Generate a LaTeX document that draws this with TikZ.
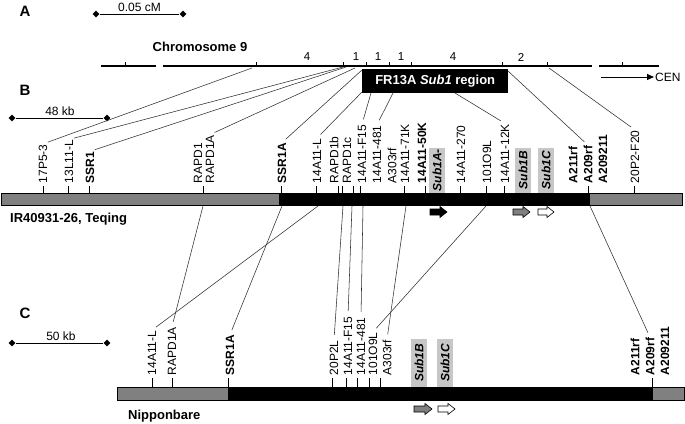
\documentclass[tikz,border=0pt]{standalone}
\usepackage{fontspec}
\setmainfont{Liberation Sans}
\usetikzlibrary{arrows.meta,calc,shapes.geometric}
\definecolor{midgray}{gray}{0.5}
\definecolor{boxgray}{gray}{0.78}
\newcommand\blockarr[5]{% name x0 x1 y fill
  \filldraw[draw=black,line width=0.6pt,fill=#5] (#2,#4-3) -- (#3-7,#4-3) -- (#3-7,#4-5.5) -- (#3,#4) -- (#3-7,#4+5.5) -- (#3-7,#4+3) -- (#2,#4+3) -- cycle;
  \coordinate (#1) at (#2,#4);}
\begin{document}
\begin{tikzpicture}[x=1pt,y=-1pt,
  lbl/.style={rotate=90,anchor=west,inner sep=0.5pt,font=\fontsize{12}{13}\selectfont},
  blbl/.style={lbl,font=\fontsize{12}{13}\selectfont\bfseries},
  subbox/.style={rotate=90,anchor=west,fill=boxgray,inner sep=0.5pt,minimum height=16pt,font=\fontsize{12}{13}\selectfont\bfseries\itshape},
  conn/.style={line width=0.55pt,black!82,shorten >=5pt},
  tck/.style={line width=0.8pt},
  chrom/.style={line width=1.4pt},
  panel/.style={font=\fontsize{15}{16}\selectfont\bfseries},
  ttl/.style={font=\fontsize{13}{15}\selectfont\bfseries},
  num/.style={font=\fontsize{11.5}{12}\selectfont,inner sep=0.5pt},
  diam/.style={diamond,fill=black,inner sep=0pt,minimum size=7pt},
  bar/.style={draw=black,line width=0.8pt}
]
\useasboundingbox (0,0) rectangle (685,423);

% ---------------- Panel A ----------------
\node[panel] (pA) at (25,11) {A};
\node[diam] (sa1) at (96,14) {};
\node[diam] (sa2) at (183,14) {};
\draw[line width=1pt] (sa1) -- (sa2);
\node[num,font=\fontsize{12}{13}\selectfont] (sat) at (139.5,7) {0.05 cM};
\node[ttl] (chr) at (200,47) {Chromosome 9};

\draw[chrom] (101,66) -- (156,66);
\draw[chrom] (163,66) -- (592,66);
\draw[chrom] (599,66) -- (659,66);
\foreach \x in {125,256,343,366,389,411,502,547,622}
  \draw[tck] (\x,66) -- (\x,61.5);
\node[num] (n1) at (307,57) {4};
\node[num] (n2) at (356,57) {1};
\node[num] (n3) at (378,57) {1};
\node[num] (n4) at (401,57) {1};
\node[num] (n5) at (453,57) {4};
\node[num] (n6) at (521,57) {2};

\node[fill=black,text=white,ttl,minimum width=146pt,minimum height=24pt,anchor=north west,inner sep=0pt] (fr) at (362,69) {FR13A \textit{Sub1} region};

\coordinate (cen0) at (601,77);
\node[anchor=west,inner sep=1pt,font=\fontsize{12}{13}\selectfont] (cen) at (654,77) {CEN};
\draw[-{Triangle[length=7pt,width=6pt]},line width=1pt] (cen0) -- (cen.west);

% source points on chromosome
\coordinate (a17) at (252,68);
\coordinate (a13) at (343,67);
\coordinate (assr1) at (346,67);
\coordinate (arapd) at (355,68);
\coordinate (assr1a) at (362,70);
\coordinate (a14L) at (362,92);
\coordinate (aF15) at (371,93);
\coordinate (a481) at (393,93);
\coordinate (a12K) at (455,93);
\coordinate (a209) at (508,71);
\coordinate (a20P) at (549,68);

% ---------------- Panel B ----------------
\node[panel] (pB) at (25,90) {B};
\node[diam] (sb1) at (12,118) {};
\node[diam] (sb2) at (107,118) {};
\draw[line width=1pt] (sb1) -- (sb2);
\node[num,font=\fontsize{12}{13}\selectfont] (sbt) at (60,111) {48 kb};

\filldraw[bar,fill=midgray] (1,193) rectangle (279,205);
\filldraw[bar,fill=black] (279,193) rectangle (589,205);
\filldraw[bar,fill=midgray] (589,193) rectangle (682,205);
\node[ttl,anchor=west,inner sep=0pt] (teq) at (10,219) {IR40931-26, Teqing};

\foreach \x in {43,68,89,203,281,316,338,342,353,360,404,425,460,486,504,588,634}
  \draw[tck] (\x,186) -- (\x,193);

\node[lbl]  (b17)   at (43,184)  {17P5-3};
\node[lbl]  (b13)   at (69,184)  {13L11-L};
\node[blbl] (bssr1) at (90,184)  {SSR1};
\node[lbl]  (brapd1) at (198,184) {RAPD1};
\node[lbl]  (brapd1a) at (210,184) {RAPD1A};
\node[blbl] (bssr1a) at (282,184) {SSR1A};
\node[lbl]  (b14L)  at (317,184) {14A11-L};
\node[lbl]  (brb)   at (334,184) {RAPD1b};
\node[lbl]  (brc)   at (347,184) {RAPD1c};
\node[lbl]  (bF15)  at (362,184) {14A11-F15};
\node[lbl]  (b481)  at (377,184) {14A11-481};
\node[lbl]  (b303)  at (392,184) {A303rf};
\node[lbl]  (b71K)  at (405,184) {14A11-71K};
\node[blbl] (b50K)  at (422,184) {14A11-50K};
\node[subbox,minimum width=45pt] (bsubA) at (437,193) {Sub1A-};
\node[lbl]  (b270)  at (461,184) {14A11-270};
\node[lbl]  (b101)  at (487,184) {101O9L};
\node[lbl]  (b12K)  at (505,184) {14A11-12K};
\node[subbox,minimum width=45pt] (bsubB) at (523,193) {Sub1B};
\node[subbox,minimum width=45pt] (bsubC) at (546,193) {Sub1C};
\node[blbl] (b211)  at (573,184) {A211rf};
\node[blbl] (b209)  at (588,184) {A209rf};
\node[blbl] (b2092) at (603,184) {A209211};
\node[lbl]  (b20P)  at (635,184) {20P2-F20};

\blockarr{arrA}{430}{447}{212}{black}
\blockarr{arrB}{513}{530}{212}{midgray}
\blockarr{arrC}{538}{554}{212}{white}

% connectors A -> B
\draw[conn] (a17) -- (b17.east);
\draw[conn] (a13) -- (b13.east);
\draw[conn] (assr1) -- (bssr1.east);
\draw[conn] (arapd) -- (brapd1a.east);
\draw[conn] (assr1a) -- (bssr1a.east);
\draw[conn] (a14L) -- (b14L.east);
\draw[conn] (aF15) -- (bF15.east);
\draw[conn] (a481) -- (b481.east);
\draw[conn] (a12K) -- (b12K.east);
\draw[conn] (a209) -- (b209.east);
\draw[conn] (a20P) -- (b20P.east);

% source points on bar B
\coordinate (brapd1s) at (203,206);
\coordinate (bssr1as) at (282,206);
\coordinate (b14Ls) at (318,206);
\coordinate (brcs) at (343,206);
\coordinate (bF15s) at (352,206);
\coordinate (b481s) at (363,206);
\coordinate (b303s) at (406,206);
\coordinate (b101s) at (486,206);
\coordinate (b209s) at (590,206);

% ---------------- Panel C ----------------
\node[panel] (pC) at (25,313) {C};
\node[diam] (sc1) at (12,343) {};
\node[diam] (sc2) at (107,343) {};
\draw[line width=1pt] (sc1) -- (sc2);
\node[num,font=\fontsize{12}{13}\selectfont] (sct) at (61,336) {50 kb};

\filldraw[bar,fill=midgray] (117,387) rectangle (228,400);
\filldraw[bar,fill=black] (228,387) rectangle (652,400);
\filldraw[bar,fill=midgray] (652,387) rectangle (684,400);
\node[ttl,anchor=west,inner sep=0pt] (nip) at (128,416) {Nipponbare};

\foreach \x in {152,172,228,332,346,357,369,380,652}
  \draw[tck] (\x,378) -- (\x,387);

\node[lbl]  (c14L)  at (152,376) {14A11-L};
\node[lbl]  (crapd1a) at (172,376) {RAPD1A};
\node[blbl] (cssr1a) at (230,376) {SSR1A};
\node[lbl]  (c20P)  at (334,376) {20P2L};
\node[lbl]  (cF15)  at (348,376) {14A11-F15};
\node[lbl]  (c481)  at (361,376) {14A11-481};
\node[lbl]  (c101)  at (373,376) {101O9L};
\node[lbl]  (c303)  at (387,376) {A303rf};
\node[subbox,minimum width=48pt] (csubB) at (419,387) {Sub1B};
\node[subbox,minimum width=48pt] (csubC) at (445,387) {Sub1C};
\node[blbl] (c211)  at (635,376) {A211rf};
\node[blbl] (c209)  at (650,376) {A209rf};
\node[blbl] (c2092) at (665,376) {A209211};

\blockarr{carrB}{414}{432}{409}{midgray}
\blockarr{carrC}{438}{455}{409}{white}

% connectors B -> C
\draw[conn] (brapd1s) -- (crapd1a.east);
\draw[conn] (b14Ls) -- (c14L.east);
\draw[conn] (bssr1as) -- (cssr1a.east);
\draw[conn] (brcs) -- (c20P.east);
\draw[conn] (bF15s) -- (cF15.east);
\draw[conn] (b481s) -- (c481.east);
\draw[conn] (b303s) -- (c303.east);
\draw[conn] (b101s) -- (c101.east);
\draw[conn] (b209s) -- (c209.east);
\end{tikzpicture}
\end{document}
